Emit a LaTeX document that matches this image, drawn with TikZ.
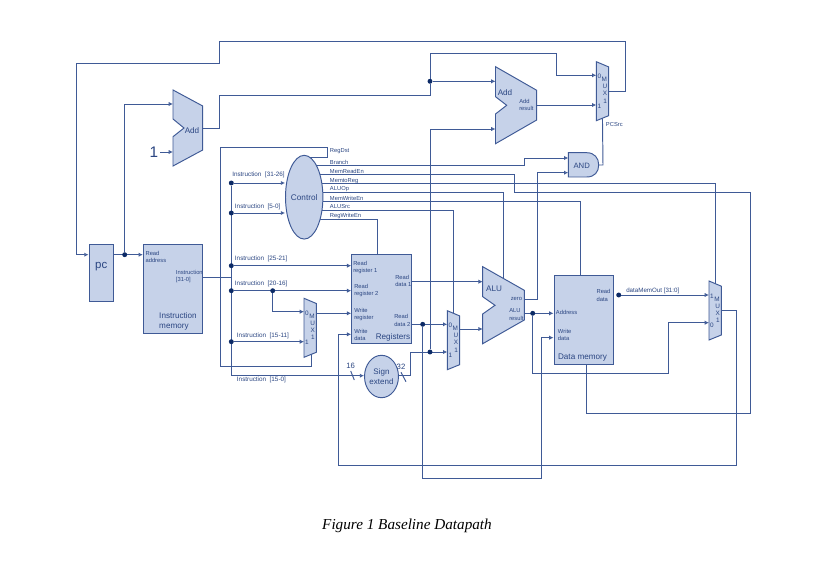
\documentclass[tikz,border=0pt]{standalone}
\usepackage{fontspec}
\setmainfont{Liberation Sans}
\newfontfamily\capfont{Liberation Serif}
\usetikzlibrary{arrows.meta,shapes.geometric,backgrounds}
\definecolor{blockfill}{HTML}{C6D2E9}
\definecolor{wirecol}{HTML}{3F5A96}
\definecolor{textcol}{HTML}{2B4682}
\definecolor{dotcol}{HTML}{0C2A66}
\tikzset{
  wire/.style={draw=wirecol,line width=0.72pt,line join=miter},
  port/.style={wire,-{Latex[length=3.2pt,width=3.2pt,fill=blockfill]}},
  blockshape/.style={draw=wirecol,fill=blockfill,line width=0.72pt,line join=miter},
  blockbox/.style={blockshape,rectangle,inner sep=0pt},
  blockoval/.style={blockshape,ellipse,inner sep=0pt,text=textcol},
  dot/.style={circle,fill=dotcol,inner sep=0pt,minimum size=3.7pt},
  lab/.style={anchor=west,inner sep=0pt,text=textcol,align=left,font=\fontsize{4.35pt}{5.45pt}\selectfont},
  instr/.style={lab,font=\fontsize{4.75pt}{5.5pt}\selectfont},
  big/.style={inner sep=0pt,text=textcol,align=left,font=\fontsize{6.1pt}{7.4pt}\selectfont},
  muxlet/.style={inner sep=0pt,text=textcol,font=\fontsize{4.8pt}{5pt}\selectfont},
  pics/muxpic/.style 2 args={code={
    \path[blockshape] (0,0) -- (12.3,5.2) -- (12.3,54) -- (0,59) -- cycle;
    \coordinate (-w) at (0,29.5);
    \coordinate (-e) at (12.3,29.5);
    \coordinate (-c) at (6.15,29.5);
    \node[muxlet] (-tm) at (8,17.8) {M};
    \node[muxlet] (-tu) at (8.7,25) {U};
    \node[muxlet] (-tx) at (8.7,32) {X};
    \node[muxlet] (-tn) at (8.9,39.3) {1};
    \node[muxlet] (-ta) at (3,15) {#1};
    \node[muxlet] (-tb) at (3,44.3) {#2};
  }}
}
\begin{document}
\begin{tikzpicture}[x=0.75pt,y=-0.75pt]
\useasboundingbox (0,0) rectangle (822,581);
\begin{pgfonlayer}{background}
\fill[white] (0,0) rectangle (822,581);
\end{pgfonlayer}

% rectangular blocks and ovals
\node[blockbox,minimum width=18.5pt,minimum height=42.75pt] (pc) at (101.35,272.5) {};
\node[blockbox,minimum width=44.55pt,minimum height=67pt] (imem) at (173,288.65) {};
\node[blockbox,minimum width=44.5pt,minimum height=67pt] (regs) at (381.35,299) {};
\node[blockbox,minimum width=44.8pt,minimum height=67pt] (dmem) at (583.85,320) {};
\node[blockoval,minimum width=26.25pt,minimum height=62.8pt,font=\fontsize{6.15pt}{7pt}\selectfont] (ctl) at (304.2,197.2) {Control};
\node[blockoval,minimum width=22.2pt,minimum height=31.8pt,align=center,font=\fontsize{6pt}{7.2pt}\selectfont] (sign) at (381.5,376.5) {Sign\\extend};

% adders, ALU, AND
\path[blockshape] (173,90) -- (202.7,106) -- (202.7,150) -- (173,166) -- (173,136.7) -- (184,128) -- (173,119) -- cycle;
\path[blockshape] (495.5,66.7) -- (536.7,90.3) -- (536.7,120) -- (495.5,143.7) -- (495.5,114) -- (506.7,105.3) -- (495.5,96.7) -- cycle;
\path[blockshape] (482.7,266.7) -- (524.3,290.3) -- (524.3,320) -- (482.7,343.7) -- (482.7,314) -- (495,305.3) -- (482.7,296.7) -- cycle;
\path[blockshape] (568.3,152.7) -- (586.7,152.7) .. controls (594.5,152.7) and (598.7,158) .. (598.7,165) .. controls (598.7,172) and (594.5,177) .. (586.7,177) -- (568.3,177) -- cycle;
\coordinate (add1a) at (173,104);
\coordinate (add1b) at (173,152);
\coordinate (add1o) at (202.7,128);
\coordinate (add2a) at (495.5,81.3);
\coordinate (add2b) at (495.5,129);
\coordinate (add2o) at (536.7,105);
\coordinate (alua) at (482.7,281.7);
\coordinate (alub) at (482.7,329);
\coordinate (aluc) at (503.7,278.6);
\coordinate (aluz) at (524.3,299.3);
\coordinate (alur) at (524.3,313.3);
\coordinate (anda) at (568.3,158);
\coordinate (andb) at (568.3,172.7);
\coordinate (ando) at (598.7,165);

% multiplexers
\pic (mpc) at (596.3,61.7) {muxpic={0}{1}};
\pic (mreg) at (304,298.3) {muxpic={0}{1}};
\pic (malu) at (447.3,310.7) {muxpic={0}{1}};
\pic (mmem) at (709,281) {muxpic={1}{0}};

% junctions
\node[dot] (jpc) at (124.7,254.7) {};
\node[dot] (jadd) at (430,81.3) {};
\node[dot] (ja) at (231.3,183) {};
\node[dot] (jb) at (231.3,213) {};
\node[dot] (jc) at (231.3,265.7) {};
\node[dot] (jd) at (231.3,290.7) {};
\node[dot] (je) at (272.7,290.7) {};
\node[dot] (jf) at (231.3,341.7) {};
\node[dot] (jrd) at (422.7,324.3) {};
\node[dot] (jsx) at (430,352) {};
\node[dot] (jalu) at (532.7,313.3) {};
\node[dot] (jmem) at (618.7,295) {};

% connectors
\begin{pgfonlayer}{background}
\draw[port] (mpc-e |- 0,91) -- (625,91) -- (625,41) -- (219,41) -- (219,63) -- (76,63) -- (76,254.7) -- (pc.west |- 0,254.7);
\draw[port] (pc.east |- 0,254.7) -- (imem.west |- 0,254.7);
\draw[port] (jpc) -- (124.7,104) -- (add1a);
\draw[wire] (add1o) -- (219,128) -- (219,95) -- (430,95) -- (jadd);
\draw[port] (jadd) -- (add2a);
\draw[port] (jadd) -- (430,53) -- (556,53) -- (556,75.3) -- (mpc-w |- 0,75.3);
\draw[port] (add2o) -- (mpc-w |- 0,105);
\draw[wire] (mpc-c |- 0,118) -- (603,165) -- (ando);
\draw[port] (ctl.center |- 0,165.7) -- (524,165.7) -- (524,158) -- (anda);
\draw[port] (aluz) -- (537.7,299.3) -- (537.7,172.7) -- (andb);
\draw[port] (jsx) -- (430,129) -- (add2b);
\draw[port] (sign.east |- 0,375.7) -- (410,375.7) -- (410,352) -- (malu-w |- 0,352);
\draw[wire] (ctl.center |- 0,157.3) -- (327.7,157.3) -- (327.7,147) -- (220,147) -- (220,366) -- (311.3,366) -- (311.3,354);
\draw[wire] (ctl.center |- 0,174.7) -- (514.3,174.7) -- (514.3,192.7) -- (750.3,192.7) -- (750.3,413.3) -- (586.7,413.3) -- (586.7,364.7);
\draw[wire] (ctl.center |- 0,183.7) -- (715,183.7) -- (715,284);
\draw[wire] (ctl.center |- 0,192.7) -- (503.7,192.7) -- (aluc);
\draw[wire] (ctl.center |- 0,201.7) -- (580,201.7) -- (580,275.3);
\draw[wire] (ctl.center |- 0,210.3) -- (453,210.3) -- (453,313);
\draw[wire] (ctl.center |- 0,219.3) -- (377.5,219.3) -- (377.5,254.3);
\draw[wire] (imem.east |- 0,277.7) -- (231.3,277.7);
\draw[wire] (ja) -- (231.3,375.7);
\draw[port] (231.3,375.7) -- (sign.west |- 0,375.7);
\draw[port] (ja) -- (ctl.west |- 0,183);
\draw[port] (jb) -- (ctl.west |- 0,213);
\draw[port] (jc) -- (regs.west |- 0,265.7);
\draw[port] (jd) -- (regs.west |- 0,290.7);
\draw[port] (je) -- (272.7,311.7) -- (mreg-w |- 0,311.7);
\draw[port] (jf) -- (mreg-w |- 0,341.7);
\draw[port] (mreg-e |- 0,313.3) -- (regs.west |- 0,313.3);
\draw[port] (mmem-e |- 0,310.7) -- (736,310.7) -- (736,465.7) -- (338.7,465.7) -- (338.7,334.3) -- (regs.west |- 0,334.3);
\draw[port] (regs.east |- 0,281.7) -- (alua);
\draw[port] (regs.east |- 0,324.3) -- (malu-w |- 0,324.3);
\draw[port] (jrd) -- (422.7,478.7) -- (541.3,478.7) -- (541.3,337.7) -- (dmem.west |- 0,337.7);
\draw[port] (malu-e |- 0,329) -- (alub);
\draw[port] (alur) -- (dmem.west |- 0,313.3);
\draw[port] (jalu) -- (532.7,373.7) -- (668.3,373.7) -- (668.3,322.7) -- (mmem-w |- 0,322.7);
\draw[port] (jmem) -- (mmem-w |- 0,295);
\end{pgfonlayer}

% free texts
\node[inner sep=0pt,text=textcol,font=\fontsize{11.5pt}{12pt}\selectfont] (one) at (154,152) {1};
\begin{pgfonlayer}{background}
\draw[port] (one.east) ++(1.5,0) -- (add1b);
\end{pgfonlayer}
\draw[wire] (350.7,371) -- (354.3,380) node[pos=0,above=1.2pt,inner sep=0pt,text=textcol,font=\fontsize{5.8pt}{6pt}\selectfont] (lsixteen) {16};
\draw[wire] (401,372.3) -- (406,381.7) node[pos=0,above=1.5pt,inner sep=0pt,text=textcol,font=\fontsize{5.8pt}{6pt}\selectfont] (lthirtytwo) {32};

\node[big,font=\fontsize{8.6pt}{9pt}\selectfont] (tpc) at (101.3,266.7) {pc};
\node[big] (tadd1) at (192,131) {Add};
\node[big] (tadd2) at (505,92.7) {Add};
\node[big] (talu) at (494,289) {ALU};
\node[big,font=\fontsize{5.8pt}{6pt}\selectfont] (tand) at (581.7,166) {AND};
\node[big] (timem) at (178,321.3) {Instruction\\memory};
\node[big] (tregs) at (393,337.3) {Registers};
\node[big] (tdmem) at (582.5,357.7) {Data memory};

\node[lab] (taddr) at (519,105) {Add\\result};
\node[lab] (tpcsrc) at (605.7,125) {PCSrc};
\node[lab] (tregdst) at (329.7,150.7) {RegDst};
\node[lab] (tbranch) at (329.7,162.7) {Branch};
\node[lab] (tmemread) at (329.7,171.7) {MemReadEn};
\node[lab] (tmemtoreg) at (329.7,180.7) {MemtoReg};
\node[lab] (taluop) at (329.7,189.3) {ALUOp};
\node[lab] (tmemwrite) at (329.7,198) {MemWriteEn};
\node[lab] (talusrc) at (329.7,207) {ALUSrc};
\node[lab] (tregwrite) at (329.7,216) {RegWriteEn};

\node[instr] (ti3126) at (232,175.3) {Instruction\ \ [31-26]};
\node[instr] (ti50) at (234.7,207.3) {Instruction\ \ [5-0]};
\node[instr] (ti2521) at (234.7,259) {Instruction\ \ [25-21]};
\node[instr] (ti2016) at (234.7,284.3) {Instruction\ \ [20-16]};
\node[instr] (ti1511) at (236.7,336.3) {Instruction\ \ [15-11]};
\node[instr] (ti150) at (236.7,380.3) {Instruction\ \ [15-0]};

\node[lab] (trdaddr) at (145.3,256.6) {Read\\address};
\node[lab] (tinstr) at (175.7,276.3) {Instruction\\{[31-0]}};
\node[lab] (trr1) at (353,267.6) {Read\\register 1};
\node[lab] (trr2) at (354,290.6) {Read\\register 2};
\node[lab] (twr) at (354,314.6) {Write\\register};
\node[lab] (twd) at (354,335.2) {Write\\data};
\node[lab] (trd1) at (395,281.2) {Read\\data 1};
\node[lab] (trd2) at (394,320.5) {Read\\data 2};
\node[lab] (tzero) at (510.5,299.3) {zero};
\node[lab] (talur) at (509,314.5) {ALU\\result};
\node[lab] (tdmaddr) at (555.7,312.7) {Address};
\node[lab] (tdmwd) at (557.7,335) {Write\\data};
\node[lab] (tdmrd) at (596.3,295.5) {Read\\data};
\node[instr,font=\fontsize{4.65pt}{5.5pt}\selectfont] (tdmo) at (626,290.7) {dataMemOut [31:0]};

\node[inner sep=0pt,text=black,font=\capfont\itshape\fontsize{11.4pt}{12pt}\selectfont] (caption) at (407,526) {Figure 1 Baseline Datapath};
\end{tikzpicture}
\end{document}
